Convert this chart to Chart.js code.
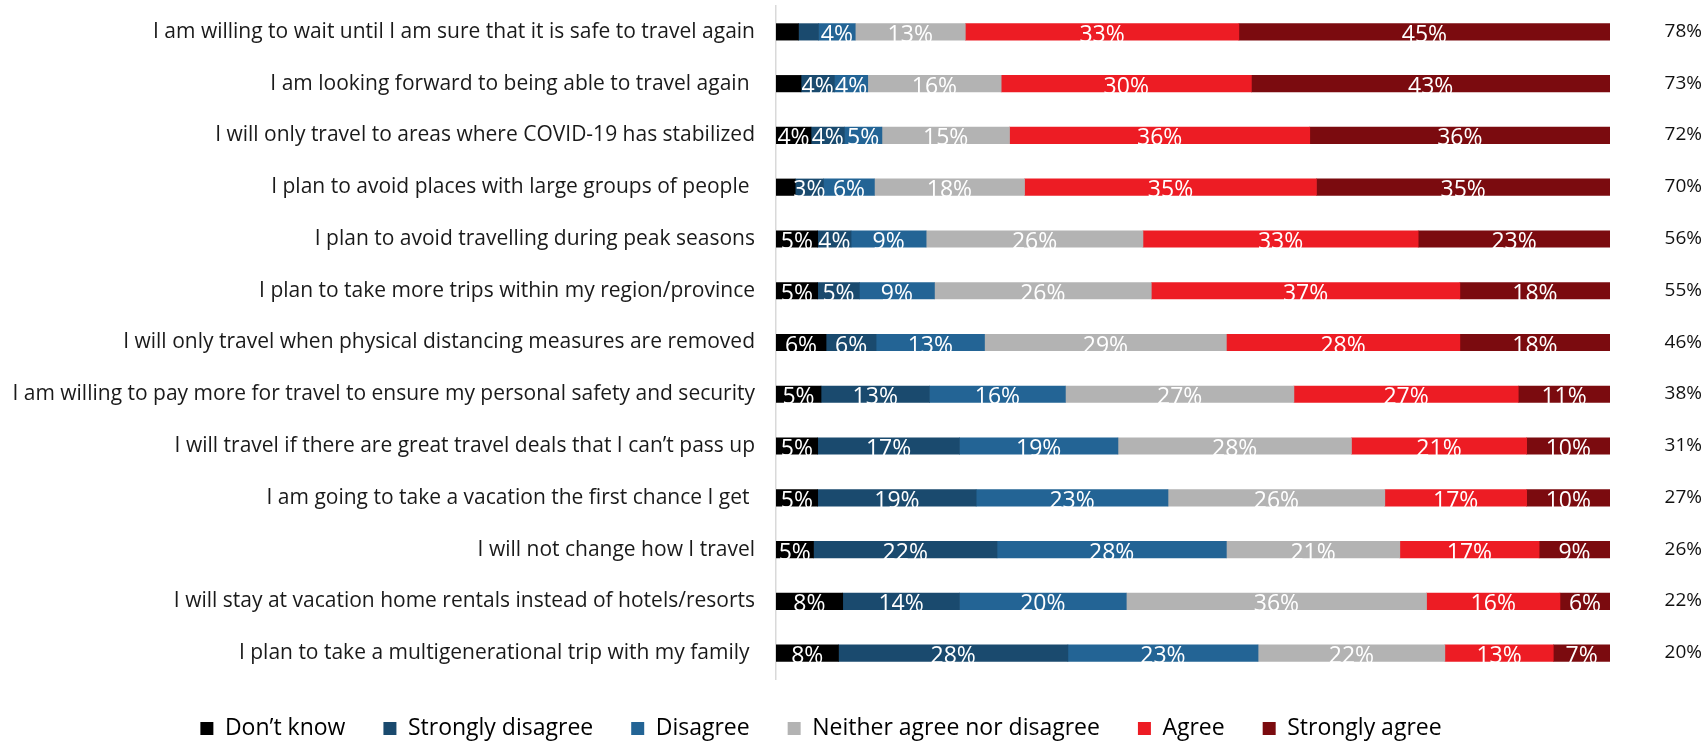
<!DOCTYPE html>
<html>
<head>
<meta charset="utf-8">
<script src="https://cdn.jsdelivr.net/npm/chart.js@4"></script>
<style>
  html, body { margin: 0; padding: 0; background: #fff; }
  #wrap { width: 1705px; height: 744px; position: relative; }
</style>
</head>
<body>
<div id="wrap"><canvas id="myChart"></canvas></div>
<script>
const categories = [
  "I am willing to wait until I am sure that it is safe to travel again",
  "I am looking forward to being able to travel again ",
  "I will only travel to areas where COVID-19 has stabilized",
  "I plan to avoid places with large groups of people ",
  "I plan to avoid travelling during peak seasons",
  "I plan to take more trips within my region/province",
  "I will only travel when physical distancing measures are removed",
  "I am willing to pay more for travel to ensure my personal safety and security",
  "I will travel if there are great travel deals that I can\u2019t pass up",
  "I am going to take a vacation the first chance I get ",
  "I will not change how I travel",
  "I will stay at vacation home rentals instead of hotels/resorts",
  "I plan to take a multigenerational trip with my family "
];

const dontKnow = [2.7, 3.0, 4.2, 2.3, 5, 5, 6, 5.4, 5, 5, 4.5, 8, 7.5];
const stronglyDisagree = [2.4, 4, 4, 3.4, 4, 5, 6, 13, 17, 19, 22, 14, 27.5];
const disagree = [4.4, 4, 4.5, 6.1, 9, 9, 13, 16.3, 19, 23, 27.5, 20, 22.8];
const neither = [13.2, 16, 15.3, 18, 26, 26, 29, 27.4, 28, 26, 20.8, 36, 22.4];
const agree = [32.8, 30, 36, 35, 33, 37, 28, 26.9, 21, 17, 16.7, 16, 13];
const stronglyAgree = [44.5, 43, 36, 35.2, 23, 18, 18, 11, 10, 10, 8.5, 6, 6.8];

// agree + strongly agree, shown on the right
const totals = [78, 73, 72, 70, 56, 55, 46, 38, 31, 27, 26, 22, 20];

const FONT = "'Open Sans', sans-serif";

// white percentages inside the segments
const barLabels = {
  id: "barLabels",
  afterDatasetsDraw(chart) {
    const c = chart.ctx;
    c.save();
    c.font = "23px " + FONT;
    c.fillStyle = "#ffffff";
    c.textAlign = "center";
    c.textBaseline = "alphabetic";
    chart.data.datasets.forEach((ds, di) => {
      const meta = chart.getDatasetMeta(di);
      meta.data.forEach((bar, i) => {
        const v = ds.data[i];
        if (v < 3.2) return;
        const p = bar.getProps(["x", "y", "base"], true);
        c.fillText(Math.round(v) + "%", (p.x + p.base) / 2, p.y + 10);
      });
    });
    c.restore();
  },
};

// totals column on the right
const totalLabels = {
  id: "totalLabels",
  afterDraw(chart) {
    const c = chart.ctx;
    const y = chart.scales.y;
    c.save();
    c.font = "19px " + FONT;
    c.fillStyle = "#111111";
    c.textAlign = "right";
    c.textBaseline = "alphabetic";
    totals.forEach((t, i) => {
      c.fillText(t + "%", chart.chartArea.right + 92, y.getPixelForValue(i) + 5);
    });
    c.restore();
  },
};

// fixed legend height, and legend nudged a bit to the right
const legendTweak = {
  id: "legendTweak",
  beforeInit(chart) {
    const fit = chart.legend.fit;
    chart.legend.fit = function () {
      fit.call(this);
      this.height = 65;
    };
  },
  afterLayout(chart) {
    chart.legend.left += 16;
    chart.legend.right += 16;
  },
};

const ctx = document.getElementById("myChart");

new Chart(ctx, {
  type: "bar",
  data: {
    labels: categories,
    datasets: [
      { label: "Don\u2019t know", data: dontKnow, backgroundColor: "#000000" },
      { label: "Strongly disagree", data: stronglyDisagree, backgroundColor: "#1a4a6e" },
      { label: "Disagree", data: disagree, backgroundColor: "#236495" },
      { label: "Neither agree nor disagree", data: neither, backgroundColor: "#b3b3b3" },
      { label: "Agree", data: agree, backgroundColor: "#ed1c24" },
      { label: "Strongly agree", data: stronglyAgree, backgroundColor: "#7b0b0f" },
    ],
  },
  options: {
    indexAxis: "y",
    responsive: true,
    maintainAspectRatio: false,
    animation: false,
    barThickness: 16.5,
    borderWidth: 0,
    layout: {
      padding: { top: 6, right: 95, left: 0, bottom: 0 },
    },
    plugins: {
      tooltip: { enabled: false },
      legend: {
        position: "bottom",
        labels: {
          boxWidth: 13,
          boxHeight: 13,
          padding: 38,
          color: "#000000",
          font: { family: FONT, size: 23 },
        },
      },
    },
    scales: {
      x: {
        stacked: true,
        min: 0,
        max: 100,
        display: false,
      },
      y: {
        stacked: true,
        grid: { display: false },
        border: { color: "#d9d9d9", width: 1.5 },
        ticks: {
          padding: 13,
          color: "#1a1a1a",
          font: { family: FONT, size: 21 },
        },
        afterFit(scale) {
          scale.width = 776;
          scale.paddingTop = 0;
          scale.paddingBottom = 0;
        },
      },
    },
  },
  plugins: [barLabels, totalLabels, legendTweak],
});
</script>
</body>
</html>
